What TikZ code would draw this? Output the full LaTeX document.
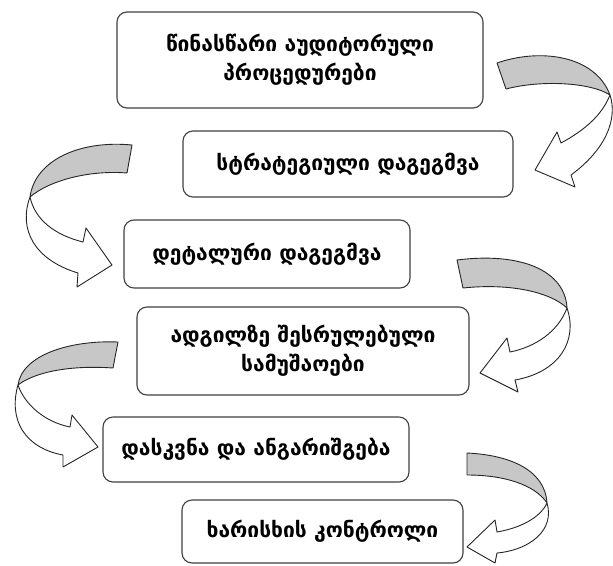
\documentclass[tikz,border=0pt]{standalone}
\usepackage{fontspec}
\newfontfamily\geo[Script=Georgian]{DejaVu Sans}
\begin{document}
\begin{tikzpicture}[x={(1pt,0)},y={(0,-1pt)},
  box/.style={draw=black!75, line width=1.1pt, rounded corners=10pt, fill=white,
    align=center, inner sep=0pt, font=\geo\bfseries\fontsize{21}{30}\selectfont},
  ribbonback/.style={draw=black!85, line width=0.9pt, line join=round, fill=black!22},
  ribbonfront/.style={draw=black!85, line width=0.9pt, line join=round, fill=white}]
\useasboundingbox (0,0) rectangle (613,565);
% boxes
\node[box, minimum width=366pt, minimum height=96pt] (b1) at (300,60)
  {\raisebox{4pt}{\shortstack{წინასწარი აუდიტორული\\[4pt]პროცედურები}}};
\node[box, minimum width=330pt, minimum height=66pt] (b2) at (348,164)
  {\raisebox{5pt}{სტრატეგიული დაგეგმვა}};
\node[box, minimum width=286pt, minimum height=68pt] (b3) at (267,254)
  {\raisebox{5pt}{დეტალური დაგეგმვა}};
\node[box, minimum width=332pt, minimum height=88pt] (b4) at (303,351)
  {\raisebox{2pt}{\shortstack{ადგილზე შესრულებული\\[4pt]სამუშაოები}}};
\node[box, minimum width=306pt, minimum height=65pt] (b5) at (256,449.5)
  {\raisebox{5pt}{დასკვნა და ანგარიშგება}};
\node[box, minimum width=281pt, minimum height=63pt] (b6) at (322.5,531.5)
  {\raisebox{5pt}{ხარისხის კონტროლი}};
% arrow A (b1 -> b2), right side
\draw[ribbonback] (497,63) .. controls (540,48) and (595,55) .. (610,95)
  .. controls (590,82) and (540,80) .. (506,89) -- cycle;
\draw[ribbonfront] (610,95) .. controls (618,120) and (605,150) .. (571,175)
  -- (575,187) -- (535,170) -- (557,132) -- (561,143)
  .. controls (585,130) and (602,115) .. (610,95) -- cycle;
% arrow B (b2 -> b3), left side
\draw[ribbonback] (132,145) .. controls (80,140) and (35,160) .. (30,197)
  .. controls (50,180) and (90,170) .. (127,173) -- cycle;
\draw[ribbonfront] (30,197) .. controls (18,230) and (35,260) .. (78,273)
  -- (77,287) -- (112,265) -- (86,228) -- (83,242)
  .. controls (55,235) and (35,220) .. (30,197) -- cycle;
% arrow C (b3 -> b4), right side
\draw[ribbonback] (457,260) .. controls (520,252) and (565,270) .. (567,308)
  .. controls (550,292) and (510,283) .. (463,288) -- cycle;
\draw[ribbonfront] (567,308) .. controls (578,340) and (560,372) .. (515,380)
  -- (518,392) -- (480,373) -- (507,338) -- (510,352)
  .. controls (535,347) and (558,332) .. (567,308) -- cycle;
% arrow D (b4 -> b5), left side
\draw[ribbonback] (118,342) .. controls (70,340) and (22,355) .. (18,385)
  .. controls (35,372) and (70,365) .. (113,368) -- cycle;
\draw[ribbonfront] (18,385) .. controls (8,420) and (25,448) .. (63,455)
  -- (63,467) -- (98,447) -- (72,415) -- (70,427)
  .. controls (45,422) and (25,405) .. (18,385) -- cycle;
% arrow E (b5 -> b6), right side
\draw[ribbonback] (467,453) .. controls (510,455) and (545,470) .. (547,503)
  .. controls (535,485) and (505,475) .. (467,475) -- cycle;
\draw[ribbonfront] (547,503) .. controls (555,530) and (530,550) .. (497,553)
  -- (495,563) -- (467,547) -- (495,520) -- (497,532)
  .. controls (520,528) and (540,518) .. (547,503) -- cycle;
\end{tikzpicture}
\end{document}
